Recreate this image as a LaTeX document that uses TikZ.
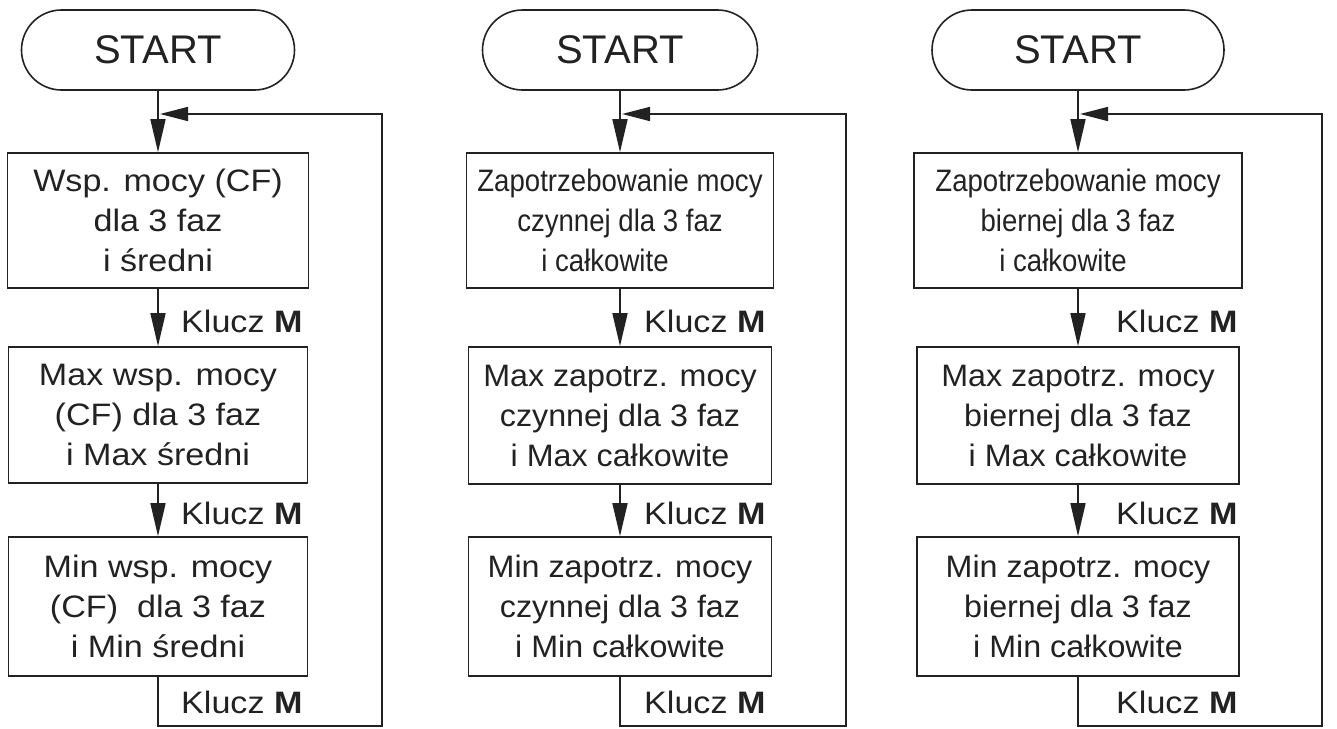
\documentclass[tikz,border=0pt]{standalone}
\usepackage{fontspec}
\setmainfont{Liberation Sans}
\newfontfamily\fA[FakeStretch=1.1]{Liberation Sans}
\newfontfamily\fB[FakeStretch=1.04]{Liberation Sans}
\newfontfamily\fN[FakeStretch=0.89]{Liberation Sans}
\usetikzlibrary{arrows.meta}
\definecolor{ink}{HTML}{222222}
\begin{document}
\begin{tikzpicture}[x=1pt,y=-1pt,
  term/.style={draw=ink, line width=1.6pt, rounded corners=40pt, minimum width=#1,
    minimum height=80pt, inner sep=0pt, text=ink, font=\fontsize{40}{48}\selectfont},
  box/.style={draw=ink, line width=1.6pt, minimum width=#1, inner sep=0pt,
    align=center, text=ink},
  tA/.style={font=\fA\fontsize{31}{40}\selectfont},
  tB/.style={font=\fB\fontsize{31}{40}\selectfont},
  tN/.style={font=\fN\fontsize{31}{40}\selectfont},
  key/.style={anchor=base west, inner sep=0pt, text=ink, font=\fA\fontsize{31}{37}\selectfont},
  arr/.style={draw=ink, line width=1.6pt, -{Triangle[length=33pt,width=15pt]}},
  back/.style={draw=ink, line width=1.6pt, -{Triangle[length=28pt,width=14pt]}}
]
\useasboundingbox (0,0) rectangle (1337,728);

% ---------- panel 1 ----------
\node[term=273pt] (s1) at (158,50) {START};
\node[box=301pt, minimum height=135pt, tA] (b11) at (158,220.5) {Wsp. mocy (CF)\\dla 3 faz\\i średni};
\node[box=299pt, minimum height=136pt, tA] (b12) at (158,415) {Max wsp. mocy\\(CF) dla 3 faz\\i Max średni};
\node[box=299pt, minimum height=139pt, tA] (b13) at (158,606.5) {Min wsp. mocy\\(CF)\ \ dla 3 faz\\i Min średni};
\node[key] (k11) at (181,332) {Klucz \textbf{M}};
\node[key] (k12) at (181,524) {Klucz \textbf{M}};
\node[key] (k13) at (181,713) {Klucz \textbf{M}};
\coordinate (c1a) at (158,726);
\coordinate (c1b) at (382,726);
\coordinate (c1c) at (382,114);
\coordinate (j1) at (160,114);
\draw[arr] (s1) -- (b11);
\draw[arr] (b11) -- (b12);
\draw[arr] (b12) -- (b13);
\draw[back] (b13) -- (c1a) -- (c1b) -- (c1c) -- (j1);

% ---------- panel 2 ----------
\node[term=275pt] (s2) at (620,50) {START};
\node[box=307pt, minimum height=135pt, tN] (b21) at (620,220.5) {Zapotrzebowanie mocy\\czynnej dla 3 faz\\i całkowite\hspace*{30pt}};
\node[box=303pt, minimum height=137pt, tB] (b22) at (620,415.5) {Max zapotrz. mocy\\czynnej dla 3 faz\\i Max całkowite};
\node[box=303pt, minimum height=139pt, tB] (b23) at (620,606.5) {Min zapotrz. mocy\\czynnej dla 3 faz\\i Min całkowite};
\node[key] (k21) at (644,332) {Klucz \textbf{M}};
\node[key] (k22) at (644,524) {Klucz \textbf{M}};
\node[key] (k23) at (644,713) {Klucz \textbf{M}};
\coordinate (c2a) at (620,726);
\coordinate (c2b) at (846,726);
\coordinate (c2c) at (846,114);
\coordinate (j2) at (622,114);
\draw[arr] (s2) -- (b21);
\draw[arr] (b21) -- (b22);
\draw[arr] (b22) -- (b23);
\draw[back] (b23) -- (c2a) -- (c2b) -- (c2c) -- (j2);

% ---------- panel 3 ----------
\node[term=292pt] (s3) at (1078,50) {START};
\node[box=328pt, minimum height=135pt, tN] (b31) at (1078,220.5) {Zapotrzebowanie mocy\\biernej dla 3 faz\\i całkowite\hspace*{30pt}};
\node[box=322pt, minimum height=137pt, tB] (b32) at (1078,415.5) {Max zapotrz. mocy\\biernej dla 3 faz\\i Max całkowite};
\node[box=322pt, minimum height=139pt, tB] (b33) at (1078,606.5) {Min zapotrz. mocy\\biernej dla 3 faz\\i Min całkowite};
\node[key] (k31) at (1116,332) {Klucz \textbf{M}};
\node[key] (k32) at (1116,524) {Klucz \textbf{M}};
\node[key] (k33) at (1116,713) {Klucz \textbf{M}};
\coordinate (c3a) at (1078,726);
\coordinate (c3b) at (1322,726);
\coordinate (c3c) at (1322,114);
\coordinate (j3) at (1080,114);
\draw[arr] (s3) -- (b31);
\draw[arr] (b31) -- (b32);
\draw[arr] (b32) -- (b33);
\draw[back] (b33) -- (c3a) -- (c3b) -- (c3c) -- (j3);
\end{tikzpicture}
\end{document}
